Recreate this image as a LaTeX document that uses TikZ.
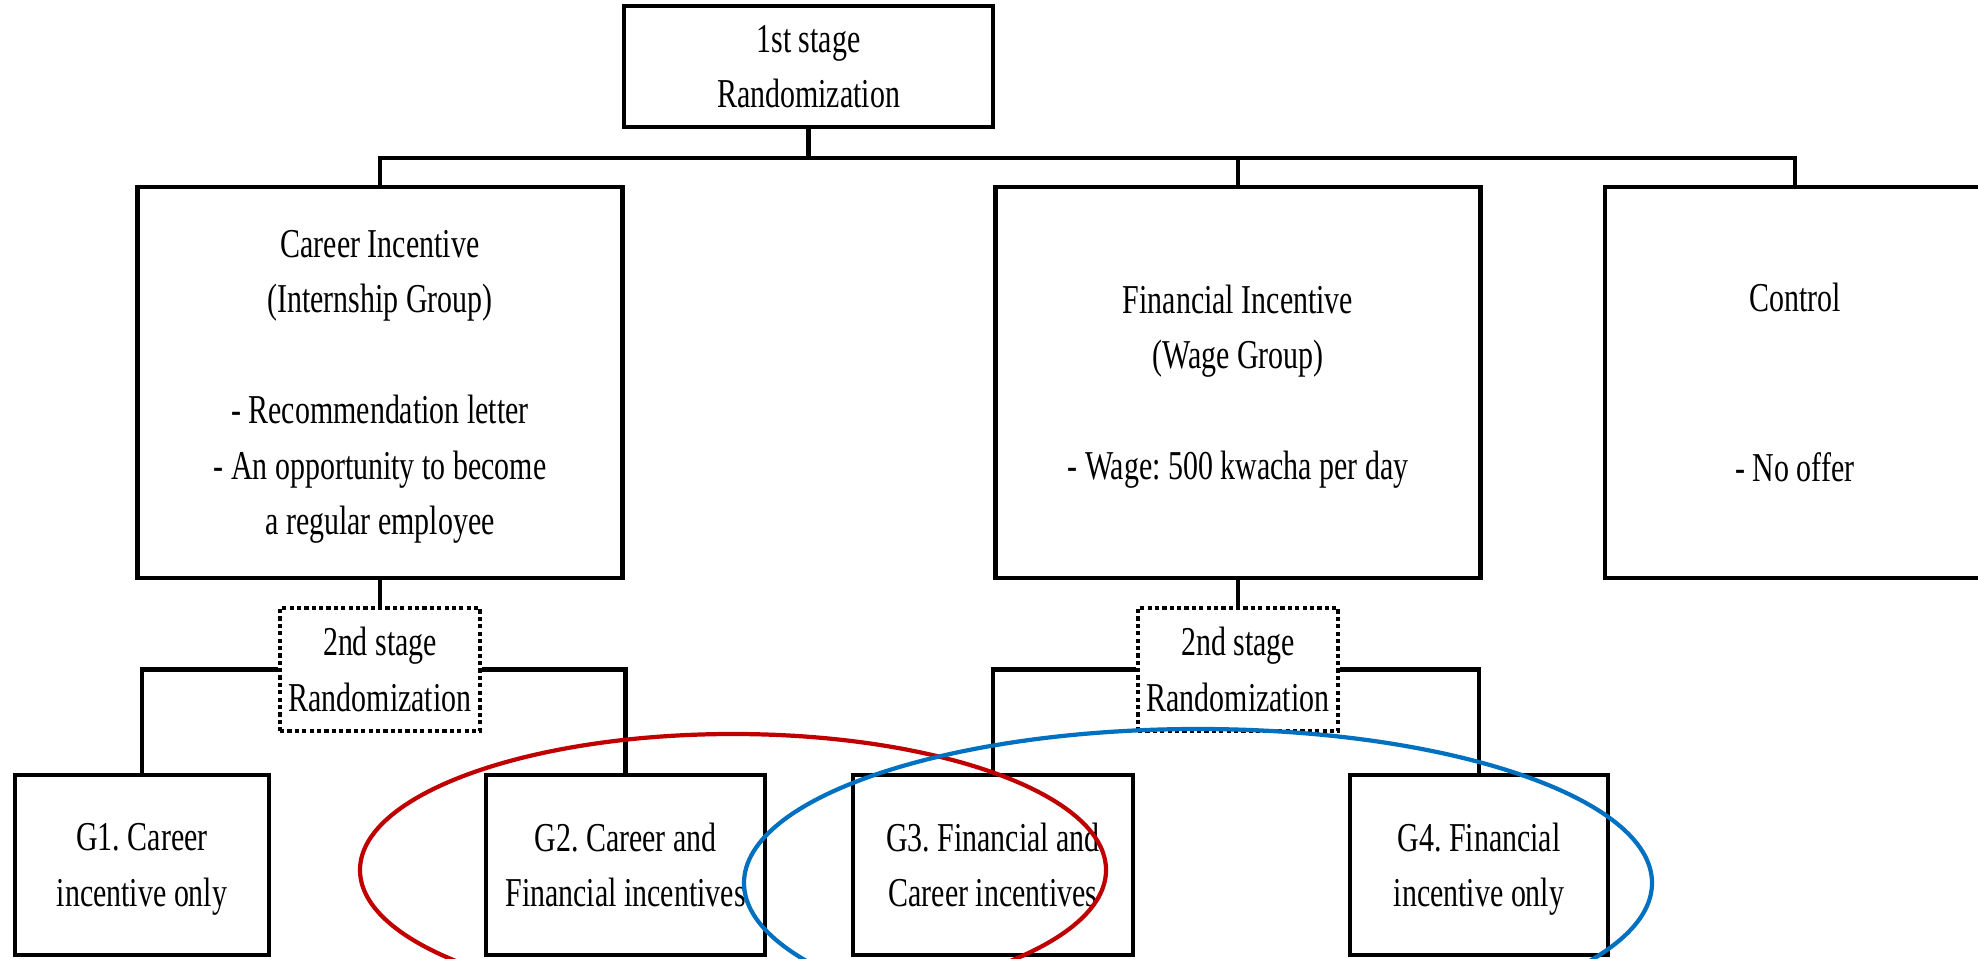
\documentclass[tikz,border=0pt]{standalone}
\usepackage{fontspec}
\setmainfont{Liberation Serif}[FakeStretch=0.73]
\definecolor{ovalred}{HTML}{C00000}
\definecolor{ovalblue}{HTML}{0070C0}
\frenchspacing
\begin{document}
\begin{tikzpicture}[
    node distance=8.58cm,
    every node/.style={align=center, text depth=0pt, font=\fontsize{11.67pt}{15.79pt}\selectfont},
    block/.style={rectangle, draw=black, line width=1.3pt, fill=white, inner sep=0pt, minimum width=4.85cm, minimum height=3.91cm},
    stagebox/.style={rectangle, draw=black, line width=1pt, dash pattern=on 1.2pt off 0.9pt, fill=white, inner sep=0pt, minimum width=2cm, minimum height=1.23cm},
    groupbox/.style={rectangle, draw=black, line width=1.3pt, fill=white, inner sep=0pt, minimum height=1.80cm},
    link/.style={line width=1.3pt, draw=black},
    oval/.style={line width=1.2pt}
]
    \useasboundingbox (0,0) rectangle (19.78,-9.59);
    \clip (0,0) rectangle (19.78,-9.59);

    % Nodes - first stage and arms
    \node[block, minimum width=3.69cm, minimum height=1.21cm] (stage1) at (8.085,-0.665) {1st stage\\Randomization};
    \node[block] (career) at (3.80,-3.825) {Career Incentive\\(Internship Group)\\[15.79pt]- Recommendation letter\\- An opportunity to become\\a regular employee};
    \node[block, right of=career] (financial) {Financial Incentive\\(Wage Group)\\[15.79pt]- Wage: 500 kwacha per day};
    \node[block, right of=financial, node distance=5.57cm, minimum width=3.8cm] (control) {Control\\[32.6pt]- No offer};

    % Nodes - second stage
    \node[stagebox, below of=career, node distance=2.87cm] (stage2a) {2nd stage\\Randomization};
    \node[stagebox, below of=financial, node distance=2.87cm] (stage2b) {2nd stage\\Randomization};
    \node[groupbox, minimum width=2.54cm] (g1) at (1.42,-8.65) {G1. Career\\incentive only};
    \node[groupbox, minimum width=2.79cm] (g2) at (6.255,-8.65) {G2. Career and\\Financial incentives};
    \node[groupbox, minimum width=2.80cm] (g3) at (9.93,-8.65) {G3. Financial and\\Career incentives};
    \node[groupbox, minimum width=2.58cm] (g4) at (14.79,-8.65) {G4. Financial\\incentive only};
    \coordinate (bus) at (8.085,-1.58);

    % Connectors
    \draw[link] (stage1) -- (bus);
    \draw[link] (career.north) |- (bus) -| (control.north);
    \draw[link] (bus) -| (financial.north);
    \draw[link] (career) -- (stage2a);
    \draw[link] (financial) -- (stage2b);
    \draw[link] (g1.north) |- (stage2a.west);
    \draw[link] (g2.north) |- (stage2a.east);
    \draw[link] (g3.north) |- (stage2b.west);
    \draw[link] (g4.north) |- (stage2b.east);

    % Ovals
    \draw[oval, ovalred] (7.33,-8.70) ellipse [x radius=3.73cm, y radius=1.36cm];
    \draw[oval, ovalblue] (11.98,-8.83) ellipse [x radius=4.54cm, y radius=1.54cm];
\end{tikzpicture}
\end{document}
